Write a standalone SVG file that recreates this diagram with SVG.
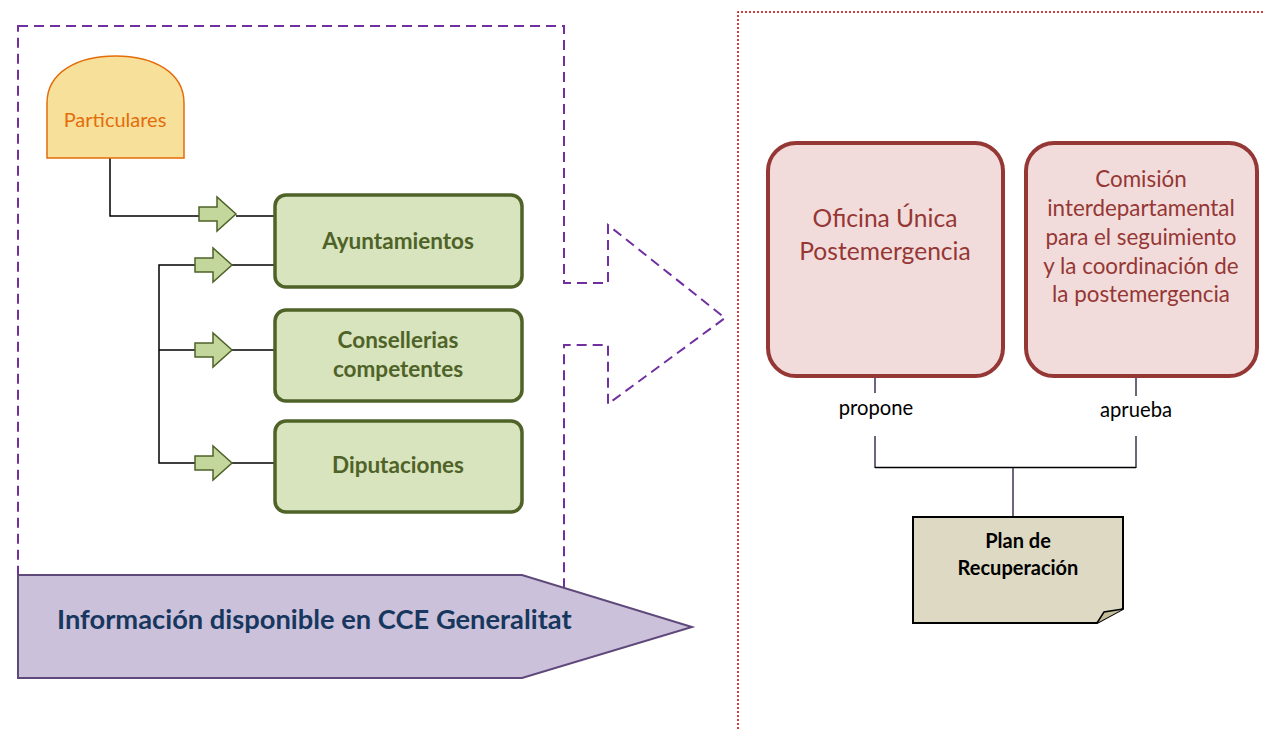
<svg xmlns="http://www.w3.org/2000/svg" width="1264" height="729" viewBox="0 0 1264 729">
<style>
.lbl{font-family:Lato,"Open Sans","Liberation Sans",sans-serif;text-anchor:middle}
.gbox{fill:#D7E4BD;stroke:#4F6228;stroke-width:3.5}
.gtxt{fill:#4F6228;font-weight:bold;font-size:22.5px}
.barrow{fill:#C3D69B;stroke:#4F6228;stroke-width:1.5;stroke-linejoin:miter}
.rbox{fill:#F2DCDB;stroke:#953735;stroke-width:4}
.rtxt{fill:#953735}
.wire{fill:none;stroke:#000;stroke-width:1.5}
.pwire{fill:none;stroke:#3F3151;stroke-width:1.5}
</style>
<defs>
<path id="ba" d="M0,-7 H18 V-17 L37,0 L18,17 V7 H0 Z"/>
</defs>
<rect width="1264" height="729" fill="#fff"/>

<g id="outline">
<polygon points="18,26 564,26 564,283 608,283 608,225 725,318 608,404 608,345 564,345 564,640 18,640" fill="none" stroke="#7030A0" stroke-width="2" stroke-dasharray="10,6"/>
</g>
<g id="zone-right">
<polyline points="738,729 738,12 1264,12" fill="none" stroke="#C00000" stroke-width="1.5" stroke-dasharray="2,2"/>
</g>

<g id="connectors">
<polyline class="wire" points="110,158 110,216 199,216"/>
<line class="wire" x1="236" y1="216" x2="275" y2="216"/>
<polyline class="wire" points="195,265 159,265 159,463 195,463"/>
<line class="wire" x1="159" y1="350" x2="195" y2="350"/>
<line class="wire" x1="232" y1="265" x2="275" y2="265"/>
<line class="wire" x1="232" y1="350" x2="275" y2="350"/>
<line class="wire" x1="232" y1="463" x2="275" y2="463"/>
<use href="#ba" class="barrow" transform="translate(199,214)"/>
<use href="#ba" class="barrow" transform="translate(195,265)"/>
<use href="#ba" class="barrow" transform="translate(195,350)"/>
<use href="#ba" class="barrow" transform="translate(195,463)"/>
<line class="pwire" x1="875" y1="376" x2="875" y2="393"/>
<line class="pwire" x1="875" y1="436" x2="875" y2="468"/>
<line class="pwire" x1="1136" y1="376" x2="1136" y2="396"/>
<line class="pwire" x1="1136" y1="436" x2="1136" y2="468"/>
<line class="wire" x1="875" y1="467.5" x2="1136" y2="467.5"/>
<line class="pwire" x1="1013" y1="468" x2="1013" y2="517"/>
</g>

<g id="particulares">
<path d="M47,158 V103 C47,72 78,56 115.5,56 C153,56 184,72 184,103 V158 Z" fill="#F6E09A" stroke="#E46C0A" stroke-width="1.5"/>
<text class="lbl" x="115" y="127" font-size="20" fill="#E46C0A">Particulares</text>
</g>

<g id="ayuntamientos">
<rect class="gbox" x="275" y="195" width="247" height="92" rx="11"/>
<text class="lbl gtxt" x="398" y="249">Ayuntamientos</text>
</g>

<g id="consellerias">
<rect class="gbox" x="275" y="310" width="247" height="91" rx="11"/>
<text class="lbl gtxt" x="398" y="348">Consellerias</text>
<text class="lbl gtxt" x="398" y="377">competentes</text>
</g>

<g id="diputaciones">
<rect class="gbox" x="275" y="421" width="247" height="91" rx="11"/>
<text class="lbl gtxt" x="398" y="473">Diputaciones</text>
</g>

<g id="informacion">
<polygon points="18,575 522,575 692,627 522,678 18,678" fill="#CCC1DA" stroke="#5F497A" stroke-width="2"/>
<text x="57" y="629" font-family="Lato,'Open Sans','Liberation Sans',sans-serif" font-weight="bold" font-size="27.3" fill="#17375E">Información disponible en CCE Generalitat</text>
</g>

<g id="oficina">
<rect class="rbox" x="768" y="143" width="235" height="233" rx="28"/>
<text class="lbl rtxt" x="885" y="227" font-size="24.6">Oficina Única</text>
<text class="lbl rtxt" x="885" y="260" font-size="24.6">Postemergencia</text>
</g>

<g id="comision">
<rect class="rbox" x="1026" y="143" width="231" height="233" rx="28"/>
<text class="lbl rtxt" x="1141" y="187" font-size="22.4">Comisión</text>
<text class="lbl rtxt" x="1141" y="216" font-size="22.4">interdepartamental</text>
<text class="lbl rtxt" x="1141" y="245" font-size="22.4">para el seguimiento</text>
<text class="lbl rtxt" x="1141" y="274" font-size="22.4">y la coordinación de</text>
<text class="lbl rtxt" x="1141" y="302" font-size="22.4">la postemergencia</text>
</g>

<g id="labels">
<text class="lbl" x="876" y="415" font-size="20.2" fill="#000">propone</text>
<text class="lbl" x="1136" y="417" font-size="20.2" fill="#000">aprueba</text>
</g>

<g id="plan">
<path d="M913,517 H1123 V609 L1097,623 H913 Z" fill="#DDD9C3" stroke="#000" stroke-width="2"/>
<path d="M1097,623 L1104,612 L1123,609" fill="#C4BD97" stroke="#000" stroke-width="1.5"/>
<text class="lbl" x="1018" y="548" font-size="20" font-weight="bold" fill="#000">Plan de</text>
<text class="lbl" x="1018" y="575" font-size="20" font-weight="bold" fill="#000">Recuperación</text>
</g>
</svg>
